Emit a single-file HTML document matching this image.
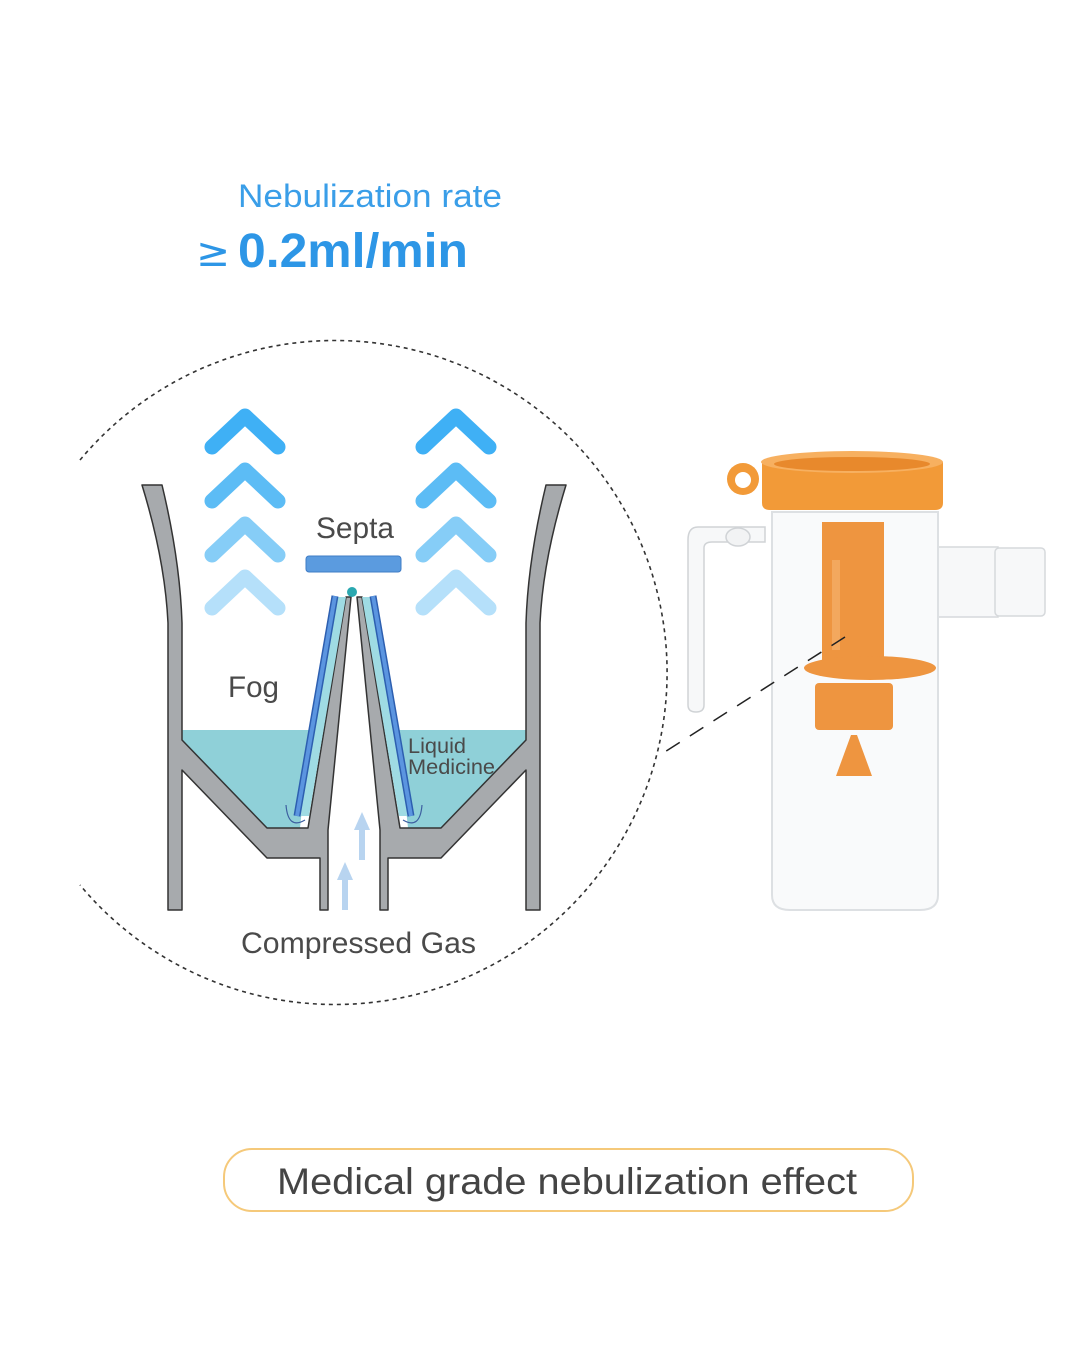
<!DOCTYPE html>
<html><head><meta charset="utf-8"><style>html,body{margin:0;padding:0;background:#fff}svg{display:block}</style></head>
<body>
<svg width="1080" height="1350" viewBox="0 0 1080 1350" xmlns="http://www.w3.org/2000/svg" font-family="Liberation Sans, DejaVu Sans, sans-serif">
<rect width="1080" height="1350" fill="#fff"/>
<!-- headings -->
<text x="238" y="207" font-size="32" fill="#3a9ee8" textLength="264" lengthAdjust="spacingAndGlyphs">Nebulization rate</text>
<text x="196" y="266" font-size="40" fill="#2d96e6" font-family="DejaVu Sans, sans-serif" textLength="34" lengthAdjust="spacingAndGlyphs">≥</text>
<text x="238" y="267" font-size="48" fill="#2d96e6" font-weight="bold" textLength="230" lengthAdjust="spacingAndGlyphs">0.2ml/min</text>

<!-- dotted circle -->
<path d="M80,460 A332,332 0 1 1 80,885" fill="none" stroke="#333" stroke-width="1.6" stroke-dasharray="4,4"/>

<!-- chevrons -->
<g fill="none" stroke-width="15" stroke-linecap="round" stroke-linejoin="round">
<polyline points="212,447 245,416 278,447" stroke="#3fb0f5"/>
<polyline points="212,501 245,470 278,501" stroke="#5cbcf5"/>
<polyline points="212,555 245,524 278,555" stroke="#86cdf7"/>
<polyline points="212,608 245,577 278,608" stroke="#b5e0fa"/>
<polyline points="423,447 456,416 489,447" stroke="#3fb0f5"/>
<polyline points="423,501 456,470 489,501" stroke="#5cbcf5"/>
<polyline points="423,555 456,524 489,555" stroke="#86cdf7"/>
<polyline points="423,608 456,577 489,608" stroke="#b5e0fa"/>
</g>

<!-- liquid -->
<polygon points="182,730 310,730 300,828 267,828 182,740" fill="#8fd0d8"/>
<polygon points="526,730 398,730 408,828 441,828 526,740" fill="#8fd0d8"/>

<!-- vessel -->
<g fill="#a7aaad" stroke="#333" stroke-width="1.5" stroke-linejoin="round">
<path d="M142,485 L162,485 Q180,560 182,623 L182,740 L267,828 L308,828 L346,597 L351,597 L328,830 L328,910 L320,910 L320,858 L267,858 L182,770 L182,910 L168,910 L168,623 Q165,560 142,485 Z"/>
<path d="M566,485 L546,485 Q528,560 526,623 L526,740 L441,828 L400,828 L362,597 L357,597 L380,830 L380,910 L388,910 L388,858 L441,858 L526,770 L526,910 L540,910 L540,623 Q543,560 566,485 Z"/>
</g>

<!-- tubes -->
<polygon points="338,597 346,597 309,816 300,816" fill="#9fdbe3"/>
<polygon points="370,597 362,597 399,816 408,816" fill="#9fdbe3"/>
<g stroke-linecap="butt">
<line x1="335" y1="596" x2="297" y2="816" stroke="#2d5fb0" stroke-width="7"/>
<line x1="335" y1="596" x2="297" y2="816" stroke="#5b95e0" stroke-width="4"/>
<line x1="373" y1="596" x2="411" y2="816" stroke="#2d5fb0" stroke-width="7"/>
<line x1="373" y1="596" x2="411" y2="816" stroke="#5b95e0" stroke-width="4"/>
</g>
<g fill="none" stroke="#3d5fa0" stroke-width="1.2">
<path d="M286,805 Q288,830 305,820"/>
<path d="M422,805 Q420,830 403,820"/>
</g>
<circle cx="352" cy="592" r="5" fill="#2aa8b0"/>

<!-- septa -->
<rect x="306" y="556" width="95" height="16" rx="3" fill="#5b9bdf" stroke="#3f7cc6"/>

<!-- gas arrows -->
<g fill="#b8d4f0" stroke="none">
<rect x="359" y="828" width="6" height="32"/><polygon points="354,830 362,812 370,830"/>
<rect x="342" y="878" width="6" height="32"/><polygon points="337,880 345,862 353,880"/>
</g>

<!-- labels -->
<g fill="#4a4a4a">
<text x="316" y="538" font-size="30" textLength="78" lengthAdjust="spacingAndGlyphs">Septa</text>
<text x="228" y="697" font-size="30" textLength="51" lengthAdjust="spacingAndGlyphs">Fog</text>
<text x="408" y="753" font-size="21" textLength="58" lengthAdjust="spacingAndGlyphs">Liquid</text>
<text x="408" y="774" font-size="21" textLength="87" lengthAdjust="spacingAndGlyphs">Medicine</text>
<text x="241" y="953" font-size="30" textLength="235" lengthAdjust="spacingAndGlyphs">Compressed Gas</text>
</g>

<!-- device -->
<g>
<path d="M765,527 L698,527 Q688,527 688,540 L688,705 Q688,712 696,712 Q704,712 704,705 L704,548 Q704,542 712,542 L765,542 Z" fill="#f7f8f9" stroke="#d0d3d6" stroke-width="1.5"/>
<ellipse cx="738" cy="537" rx="12" ry="9" fill="#f2f3f4" stroke="#d0d3d6" stroke-width="1.5"/>
<rect x="928" y="547" width="70" height="70" fill="#f7f8f9" stroke="#d6d9dc" stroke-width="1.5"/>
<rect x="995" y="548" width="50" height="68" rx="4" fill="#f7f8f9" stroke="#d6d9dc" stroke-width="1.5"/>
<path d="M772,512 L772,895 Q772,910 790,910 L920,910 Q938,910 938,895 L938,512 Z" fill="#f9fafb" stroke="#dde0e3" stroke-width="2"/>
<rect x="822" y="522" width="62" height="150" fill="#ee9540"/>
<rect x="832" y="560" width="8" height="90" fill="#f3a85e"/>
<ellipse cx="870" cy="668" rx="66" ry="12" fill="#ee9540"/>
<rect x="815" y="683" width="78" height="47" rx="4" fill="#ee9540"/>
<polygon points="836,776 872,776 857,735 851,735" fill="#ee9540"/>
<circle cx="743" cy="479" r="16" fill="#f29a38"/>
<circle cx="743" cy="480" r="8" fill="#fff"/>
<path d="M762,462 L762,503 Q762,510 770,510 L935,510 Q943,510 943,503 L943,462 Z" fill="#f29a38"/>
<ellipse cx="852" cy="462" rx="91" ry="11" fill="#f7b060"/>
<ellipse cx="852" cy="464" rx="78" ry="7" fill="#e8892c"/>
</g>

<!-- connector -->
<line x1="845" y1="637" x2="660" y2="755" stroke="#222" stroke-width="1.5" stroke-dasharray="16,12"/>

<!-- button -->
<rect x="224" y="1149" width="689" height="62" rx="28" fill="#fff" stroke="#f5c97a" stroke-width="2"/>
<text x="277" y="1194" font-size="37" fill="#444" textLength="580" lengthAdjust="spacingAndGlyphs">Medical grade nebulization effect</text>
</svg>
</body></html>
